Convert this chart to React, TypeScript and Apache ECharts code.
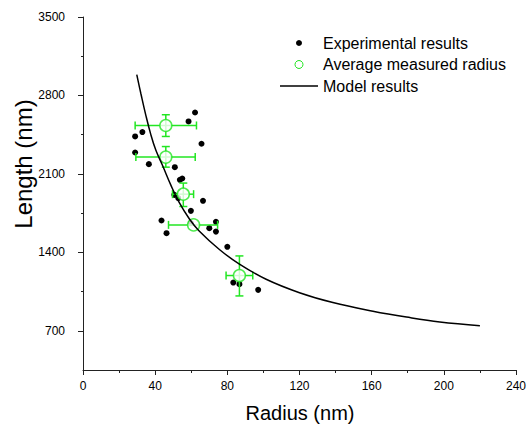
import React, { useEffect, useRef } from "react";
import * as echarts from "echarts";

// Experimental results
const expR = [62.1, 58.5, 32.9, 28.9, 65.7, 28.9, 36.5, 50.9, 53.7, 55.0, 50.6, 52.8, 66.5, 59.8, 43.5, 46.3, 73.7, 73.7, 70.0, 59.8, 80.0, 83.3, 86.7, 97.1];
const expL = [2648, 2568, 2473, 2434, 2369, 2291, 2187, 2160, 2047, 2059, 1913, 1884, 1860, 1770, 1684, 1571, 1672, 1585, 1616, 1660, 1449, 1130, 1116, 1065];

// Average measured radius (with error ranges)
const avgR = [45.9, 45.9, 55.6, 61.3, 86.7];
const avgL = [2532, 2250, 1919, 1645, 1193];
const avgRLow = [28.9, 29.3, 49.6, 47.4, 79.3];
const avgRHigh = [62.9, 62.2, 61.3, 74.6, 94.1];
const avgLLow = [2434, 2160, 1809, 1645, 1011];
const avgLHigh = [2628, 2344, 2018, 1645, 1368];

// Model results
const modelR = [29.8, 32.1, 34.8, 37.6, 40.4, 44.1, 48.7, 53.3, 58.9, 64.4, 75.6, 86.7, 101.5, 120, 138.5, 160.7, 179.3, 197.8, 220];
const modelL = [2985, 2815, 2625, 2450, 2310, 2175, 2000, 1845, 1700, 1590, 1425, 1295, 1160, 1040, 952, 875, 822, 778, 745];

// Axis ticks
const yMajor = [700, 1400, 2100, 2800, 3500];
const yMinor = [1050, 1750, 2450, 3150];

const GREEN = "#22e622";
const FONT = "'Liberation Sans', Arial, sans-serif";

export default function App() {
  const ref = useRef<HTMLDivElement>(null);
  useEffect(() => {
    if (!ref.current) return;
    const chart = echarts.init(ref.current, null, { renderer: "svg" });
    const errData = avgR.map((r, i) => [r, avgL[i], avgRLow[i], avgRHigh[i], avgLLow[i], avgLHigh[i]]);
    const cap = 4;
    const option: any = {
      animation: false,
      backgroundColor: "#fff",
      grid: { left: 83, right: 13, top: 17, bottom: 60 },
      xAxis: {
        type: "value",
        min: 0,
        max: 240,
        interval: 40,
        axisLine: { show: true, onZero: false, lineStyle: { color: "#222", width: 1 } },
        axisTick: { show: true, inside: false, length: 5, lineStyle: { color: "#222" } },
        minorTick: { show: true, splitNumber: 2, length: 3, lineStyle: { color: "#222" } },
        axisLabel: { margin: 10, fontSize: 12, color: "#000", fontFamily: FONT },
        splitLine: { show: false },
        minorSplitLine: { show: false },
      },
      yAxis: [
        {
          type: "value",
          min: 350,
          max: 3500,
          interval: 350,
          axisLine: { show: true, onZero: false, lineStyle: { color: "#222", width: 1 } },
          axisTick: { show: true, length: 5, customValues: yMajor, lineStyle: { color: "#222" } },
          axisLabel: {
            margin: 18,
            fontSize: 12,
            color: "#000",
            fontFamily: FONT,
            customValues: yMajor,
            formatter: (v: number) => (v % 700 === 0 ? String(v) : ""),
          },
          splitLine: { show: false },
        },
        {
          type: "value",
          min: 350,
          max: 3500,
          interval: 350,
          position: "left",
          axisLine: { show: false },
          axisTick: { show: true, length: 2, customValues: yMinor, lineStyle: { color: "#222" } },
          axisLabel: { show: false },
          splitLine: { show: false },
        },
      ],
      series: [
        {
          type: "scatter",
          data: expR.map((r, i) => [r, expL[i]]),
          symbol: "circle",
          symbolSize: 6,
          itemStyle: { color: "#000", opacity: 1 },
          z: 2,
        },
        {
          type: "custom",
          data: errData,
          encode: { x: 0, y: 1 },
          z: 3,
          renderItem: (params: any, api: any) => {
            const x = api.value(0), y = api.value(1);
            const xl = api.value(2), xh = api.value(3), yl = api.value(4), yh = api.value(5);
            const pl = api.coord([xl, y]);
            const ph = api.coord([xh, y]);
            const pb = api.coord([x, yl]);
            const pt = api.coord([x, yh]);
            const st = { stroke: GREEN, lineWidth: 1.5 };
            const children: any[] = [];
            if (xh > xl) {
              children.push({ type: "line", shape: { x1: pl[0], y1: pl[1], x2: ph[0], y2: ph[1] }, style: st });
              children.push({ type: "line", shape: { x1: pl[0], y1: pl[1] - cap, x2: pl[0], y2: pl[1] + cap }, style: st });
              children.push({ type: "line", shape: { x1: ph[0], y1: ph[1] - cap, x2: ph[0], y2: ph[1] + cap }, style: st });
            }
            if (yh > yl) {
              children.push({ type: "line", shape: { x1: pb[0], y1: pb[1], x2: pt[0], y2: pt[1] }, style: st });
              children.push({ type: "line", shape: { x1: pb[0] - cap, y1: pb[1], x2: pb[0] + cap, y2: pb[1] }, style: st });
              children.push({ type: "line", shape: { x1: pt[0] - cap, y1: pt[1], x2: pt[0] + cap, y2: pt[1] }, style: st });
            }
            return { type: "group", children };
          },
        },
        {
          type: "scatter",
          data: avgR.map((r, i) => [r, avgL[i]]),
          symbol: "circle",
          symbolSize: 12,
          itemStyle: { color: "#fff", borderColor: GREEN, borderWidth: 1.5 },
          z: 4,
        },
        {
          type: "line",
          data: modelR.map((r, i) => [r, modelL[i]]),
          showSymbol: false,
          symbol: "none",
          smooth: 0.4,
          lineStyle: { color: "#000", width: 1.5 },
          z: 5,
        },
      ],
      graphic: [
        { type: "circle", shape: { cx: 299, cy: 43, r: 3 }, style: { fill: "#000" } },
        { type: "circle", shape: { cx: 299, cy: 64.5, r: 4 }, style: { fill: "#fff", stroke: GREEN, lineWidth: 1 } },
        { type: "line", shape: { x1: 280, y1: 86, x2: 318, y2: 86 }, style: { stroke: "#000", lineWidth: 1.5 } },
        { type: "text", x: 323, y: 43, style: { text: "Experimental results", font: `16px ${FONT}`, fill: "#000", textVerticalAlign: "middle", verticalAlign: "middle" } },
        { type: "text", x: 323, y: 64.5, style: { text: "Average measured radius", font: `16px ${FONT}`, fill: "#000", textVerticalAlign: "middle", verticalAlign: "middle" } },
        { type: "text", x: 323, y: 86, style: { text: "Model results", font: `16px ${FONT}`, fill: "#000", textVerticalAlign: "middle", verticalAlign: "middle" } },
        { type: "text", x: 300, y: 413, style: { text: "Radius (nm)", font: `20px ${FONT}`, fill: "#000", align: "center", textAlign: "center", verticalAlign: "middle", textVerticalAlign: "middle" } },
        { type: "text", x: 23, y: 164, rotation: Math.PI / 2, style: { text: "Length (nm)", font: `24px ${FONT}`, fill: "#000", align: "center", textAlign: "center", verticalAlign: "middle", textVerticalAlign: "middle" } },
      ],
    };
    chart.setOption(option);
    return () => chart.dispose();
  }, []);
  return <div ref={ref} style={{ position: "fixed", left: 0, top: 0, width: 529, height: 430 }} />;
}
